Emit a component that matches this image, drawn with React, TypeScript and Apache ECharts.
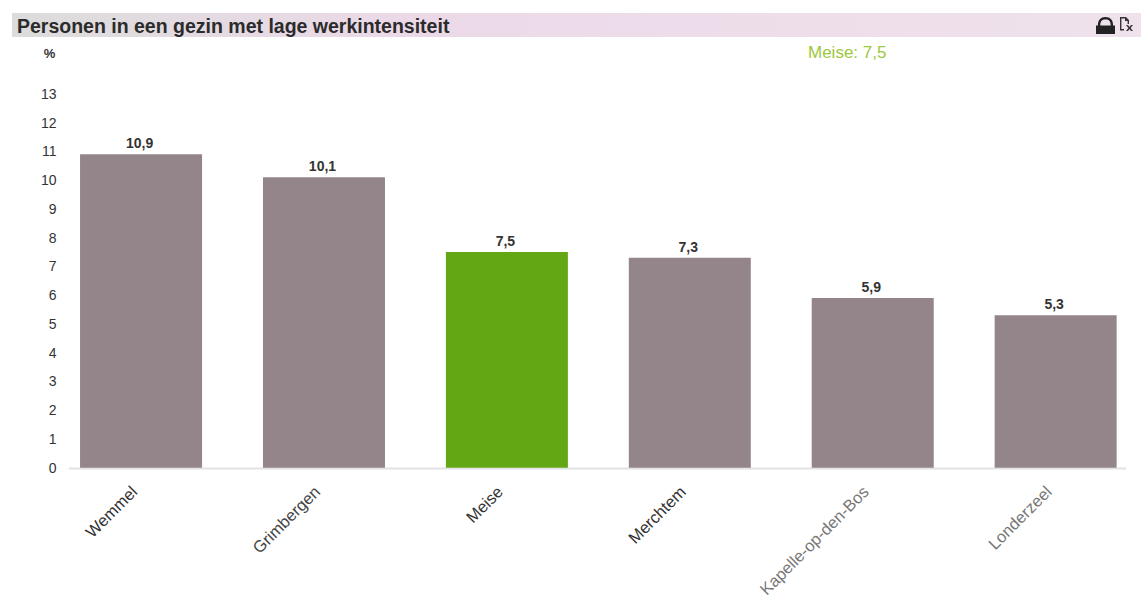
import React, { useEffect, useRef } from "react";
import * as echarts from "echarts";

const chartTitle = "Personen in een gezin met lage werkintensiteit";
const highlightText = "Meise: 7,5";
const unit = "%";
const categories = ["Wemmel", "Grimbergen", "Meise", "Merchtem", "Kapelle-op-den-Bos", "Londerzeel"];
const values = [10.9, 10.1, 7.5, 7.3, 5.9, 5.3];
const labelColors = ["#333333", "#444444", "#333333", "#333333", "#777777", "#777777"];
const GREY = "#938589";
const GREEN = "#63a814";
const HIGHLIGHT = "Meise";

echarts.graphic.registerShape(
  "lockIcon",
  echarts.graphic.extendPath(
    "M2 9 C2 3 5 0 10 0 C15 0 18 3 18 9 L20 9 L20 18 L0 18 L0 9 Z M4.5 9 L15.5 9 C15.5 4.5 14 2.5 10 2.5 C6 2.5 4.5 4.5 4.5 9 Z",
    {}
  )
);
echarts.graphic.registerShape(
  "docIcon",
  echarts.graphic.extendPath(
    "M0 0 L6 0 L9 3 L9 7 L7.6 7 L7.6 4 L5 4 L5 1.4 L1.4 1.4 L1.4 12 L4 12 L4 13.4 L0 13.4 Z M6 8 L8 8 L9.5 10 L11 8 L13 8 L10.6 11 L13 14 L11 14 L9.5 12 L8 14 L6 14 L8.4 11 Z",
    {}
  )
);

export default function App() {
  const ref = useRef<HTMLDivElement>(null);
  useEffect(() => {
    const chart = echarts.init(ref.current!, null, { renderer: "svg" });
    chart.setOption({
      animation: false,
      backgroundColor: "#ffffff",
      title: [
        {
          text: chartTitle,
          left: 12,
          top: 11,
          textStyle: { fontFamily: "Liberation Sans", fontSize: 19.5, fontWeight: "bold", color: "#2b2b2b" },
        },
        {
          text: highlightText,
          left: 803,
          top: 39,
          textStyle: { fontFamily: "Liberation Sans", fontSize: 17, fontWeight: "normal", color: "#9cc83c" },
        },
      ],
      grid: { left: 49.6, top: 94, width: 1097.5, height: 374, containLabel: false },
      xAxis: {
        type: "category",
        data: categories.map((name, i) => ({
          value: name,
          textStyle: { color: labelColors[i] },
        })),
        axisLine: { show: false },
        axisTick: { show: false },
        axisLabel: {
          rotate: 45,
          interval: 0,
          margin: 14,
          padding: [0, 10, 0, 0],
          fontFamily: "Liberation Sans",
          fontSize: 16.5,
        },
      },
      yAxis: {
        type: "value",
        min: 0,
        max: 13,
        interval: 1,
        name: unit,
        nameLocation: "end",
        nameGap: 34,
        nameTextStyle: { fontFamily: "Liberation Sans", fontSize: 13, fontWeight: "bold", color: "#333333", align: "center" },
        splitLine: { show: false },
        axisLine: { show: false },
        axisTick: { show: false },
        axisLabel: {
          margin: -7,
          fontFamily: "Liberation Sans",
          fontSize: 14,
          color: "#333333",
        },
      },
      series: [
        {
          type: "bar",
          barWidth: 122,
          data: values.map((v, i) => ({
            value: v,
            itemStyle: { color: categories[i] === HIGHLIGHT ? GREEN : GREY },
          })),
          label: {
            show: true,
            position: "top",
            distance: 4,
            offset: [-1.5, 0],
            fontFamily: "Liberation Sans",
            fontSize: 14,
            fontWeight: "bold",
            color: "#333333",
            formatter: (p: any) => String(p.value).replace(".", ","),
          },
        },
      ],
      graphic: [
        {
          type: "rect",
          z: -1,
          shape: { x: 12, y: 13, width: 1129, height: 24 },
          style: {
            fill: new echarts.graphic.LinearGradient(0, 0, 1, 0, [
              { offset: 0, color: "#dcdcdc" },
              { offset: 0.35, color: "#ecd9e8" },
              { offset: 1, color: "#efe2ec" },
            ]),
          },
        },
        { type: "lockIcon", x: 1096, y: 17, scaleX: 0.95, scaleY: 0.95, style: { fill: "#222222" } },
        { type: "docIcon", x: 1120, y: 17, scaleX: 1, scaleY: 1, style: { fill: "#333333" } },
        {
          type: "line",
          shape: { x1: 69, y1: 468.5, x2: 1126, y2: 468.5 },
          style: { stroke: "#e2e2e6", lineWidth: 2 },
          z: -1,
        },
      ],
    });
    return () => chart.dispose();
  }, []);
  return (
    <div style={{ position: "fixed", left: 0, top: 0, width: 1141, height: 600, overflow: "hidden" }}>
      <div ref={ref} style={{ width: 1170, height: 600 }} />
    </div>
  );
}
